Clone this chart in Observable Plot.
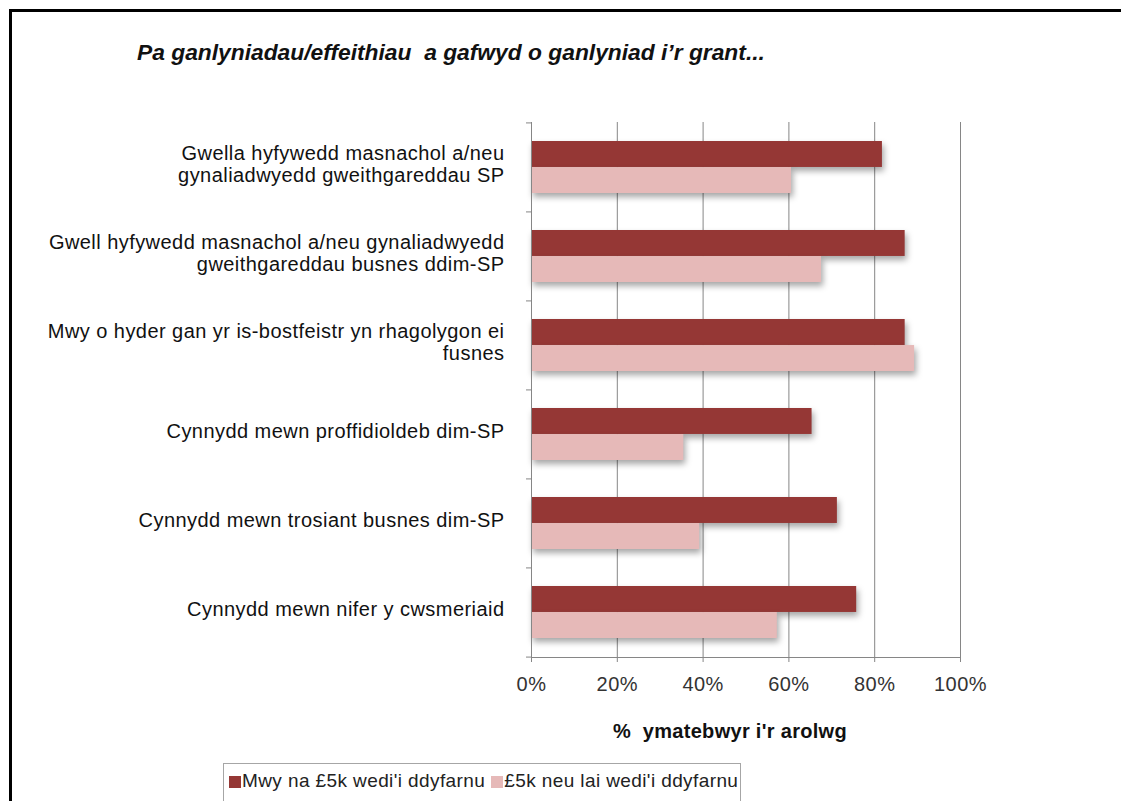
<!DOCTYPE html>
<html>
<head>
<meta charset="utf-8">
<script src="https://cdn.jsdelivr.net/npm/d3@7"></script>
<script src="https://cdn.jsdelivr.net/npm/@observablehq/plot@0.6"></script>
<style>
  html, body { margin: 0; padding: 0; background: #fff; overflow: hidden; width: 1121px; height: 801px; }
  body { position: relative; font-family: "Liberation Sans", Arial, sans-serif; }
  #box { position: absolute; left: 9px; top: 9px; width: 1300px; height: 1000px; border: 3px solid #000; box-sizing: border-box; }
  #chart { position: absolute; left: 0; top: 0; }
  #title { position: absolute; left: 137px; top: 39px; font: italic bold 22.8px "Liberation Sans", Arial, sans-serif; color: #111; white-space: pre; }
  #xtitle { position: absolute; left: 530px; width: 400px; text-align: center; top: 720px; font: bold 20px "Liberation Sans", Arial, sans-serif; letter-spacing: 0.3px; color: #111; white-space: pre; }
  #legend { position: absolute; left: 223px; top: 763px; width: 518px; height: 40px; border: 1px solid #a6a6a6; box-sizing: border-box; font-size: 19px; letter-spacing: 0.4px; color: #222; padding: 6px 0 0 5px; white-space: nowrap; }
  #legend span.sw { display: inline-block; width: 12px; height: 12px; margin-right: 1px; vertical-align: -1px; }
  #legend span.item { margin-right: 6px; }
</style>
</head>
<body>
<div id="box"></div>
<div id="chart"></div>
<div id="title">Pa ganlyniadau/effeithiau  a gafwyd o ganlyniad i’r grant...</div>
<div id="xtitle">%  ymatebwyr i'r arolwg</div>
<div id="legend"></div>
<script>
// Data
const categories = [
  "Gwella hyfywedd masnachol a/neu\ngynaliadwyedd gweithgareddau SP",
  "Gwell hyfywedd masnachol a/neu gynaliadwyedd\ngweithgareddau busnes ddim-SP",
  "Mwy o hyder gan yr is-bostfeistr yn rhagolygon ei\nfusnes",
  "Cynnydd mewn proffidioldeb dim-SP",
  "Cynnydd mewn trosiant busnes dim-SP",
  "Cynnydd mewn nifer y cwsmeriaid"
];
const seriesNames = ["Mwy na £5k wedi'i ddyfarnu", "£5k neu lai wedi'i ddyfarnu"];
const over5k = [0.818, 0.871, 0.871, 0.654, 0.713, 0.758];
const upTo5k = [0.606, 0.676, 0.893, 0.355, 0.392, 0.573];
const seriesColors = ["#953735", "#e6b9b8"];
const xTicks = [0, 0.2, 0.4, 0.6, 0.8, 1];

const rows = [];
categories.forEach((c, i) => {
  rows.push({category: c, series: seriesNames[0], value: over5k[i]});
  rows.push({category: c, series: seriesNames[1], value: upTo5k[i]});
});

const W = 1121, H = 760;
const plotTop = 122, plotBottom = 657, plotLeft = 531, plotRight = 960;
const step = (plotBottom - plotTop) / categories.length;
const pIn = 0.416;
const bw = step * (1 - pIn);
const grey = "#868686";
const shadow = "drop-shadow(2px 4px 3px rgba(0,0,0,0.35))";
const tickLen = 5 / (plotRight - plotLeft);

const chart = Plot.plot({
  width: W,
  height: H,
  marginTop: plotTop,
  marginBottom: H - plotBottom,
  marginLeft: plotLeft,
  marginRight: W - plotRight,
  style: {fontFamily: "'Liberation Sans', Arial, sans-serif", fontSize: "20px", color: "#333", background: "transparent", letterSpacing: "0.45px"},
  x: {domain: [0, 1], ticks: xTicks, tickFormat: d3.format(".0%")},
  y: {domain: categories, paddingInner: pIn, paddingOuter: pIn / 2},
  marks: [
    Plot.gridX(xTicks.slice(1), {stroke: grey, strokeOpacity: 1}),
    Plot.barX(rows.filter(d => d.series === seriesNames[0]), {
      x: "value", y: "category", fill: seriesColors[0], insetBottom: bw / 2, insetTop: 0, imageFilter: shadow
    }),
    Plot.barX(rows.filter(d => d.series === seriesNames[1]), {
      x: "value", y: "category", fill: seriesColors[1], insetTop: bw / 2, insetBottom: 0, imageFilter: shadow
    }),
    Plot.ruleX([0], {stroke: grey}),
    Plot.frame({anchor: "bottom", stroke: grey}),
    Plot.ruleY(categories, {y: d => d, dy: -step / 2, x1: -tickLen, x2: 0, stroke: grey}),
    Plot.ruleY(categories.slice(-1), {y: d => d, dy: step / 2, x1: -tickLen, x2: 0, stroke: grey}),
    Plot.axisX({ticks: xTicks, tickFormat: d3.format(".0%"), tickSize: 5, tickPadding: 14, stroke: grey, color: "#333", label: null, fontSize: 20}),
    Plot.axisY({tickSize: 0, tickPadding: 27, label: null, fontSize: 20, lineHeight: 1.1, dy: -4, fill: "#111"})
  ]
});
document.getElementById("chart").appendChild(chart);

const legend = document.getElementById("legend");
seriesNames.forEach((name, i) => {
  const item = document.createElement("span");
  item.className = "item";
  const sw = document.createElement("span");
  sw.className = "sw";
  sw.style.background = seriesColors[i];
  item.appendChild(sw);
  item.appendChild(document.createTextNode(name));
  legend.appendChild(item);
});
</script>
</body>
</html>
